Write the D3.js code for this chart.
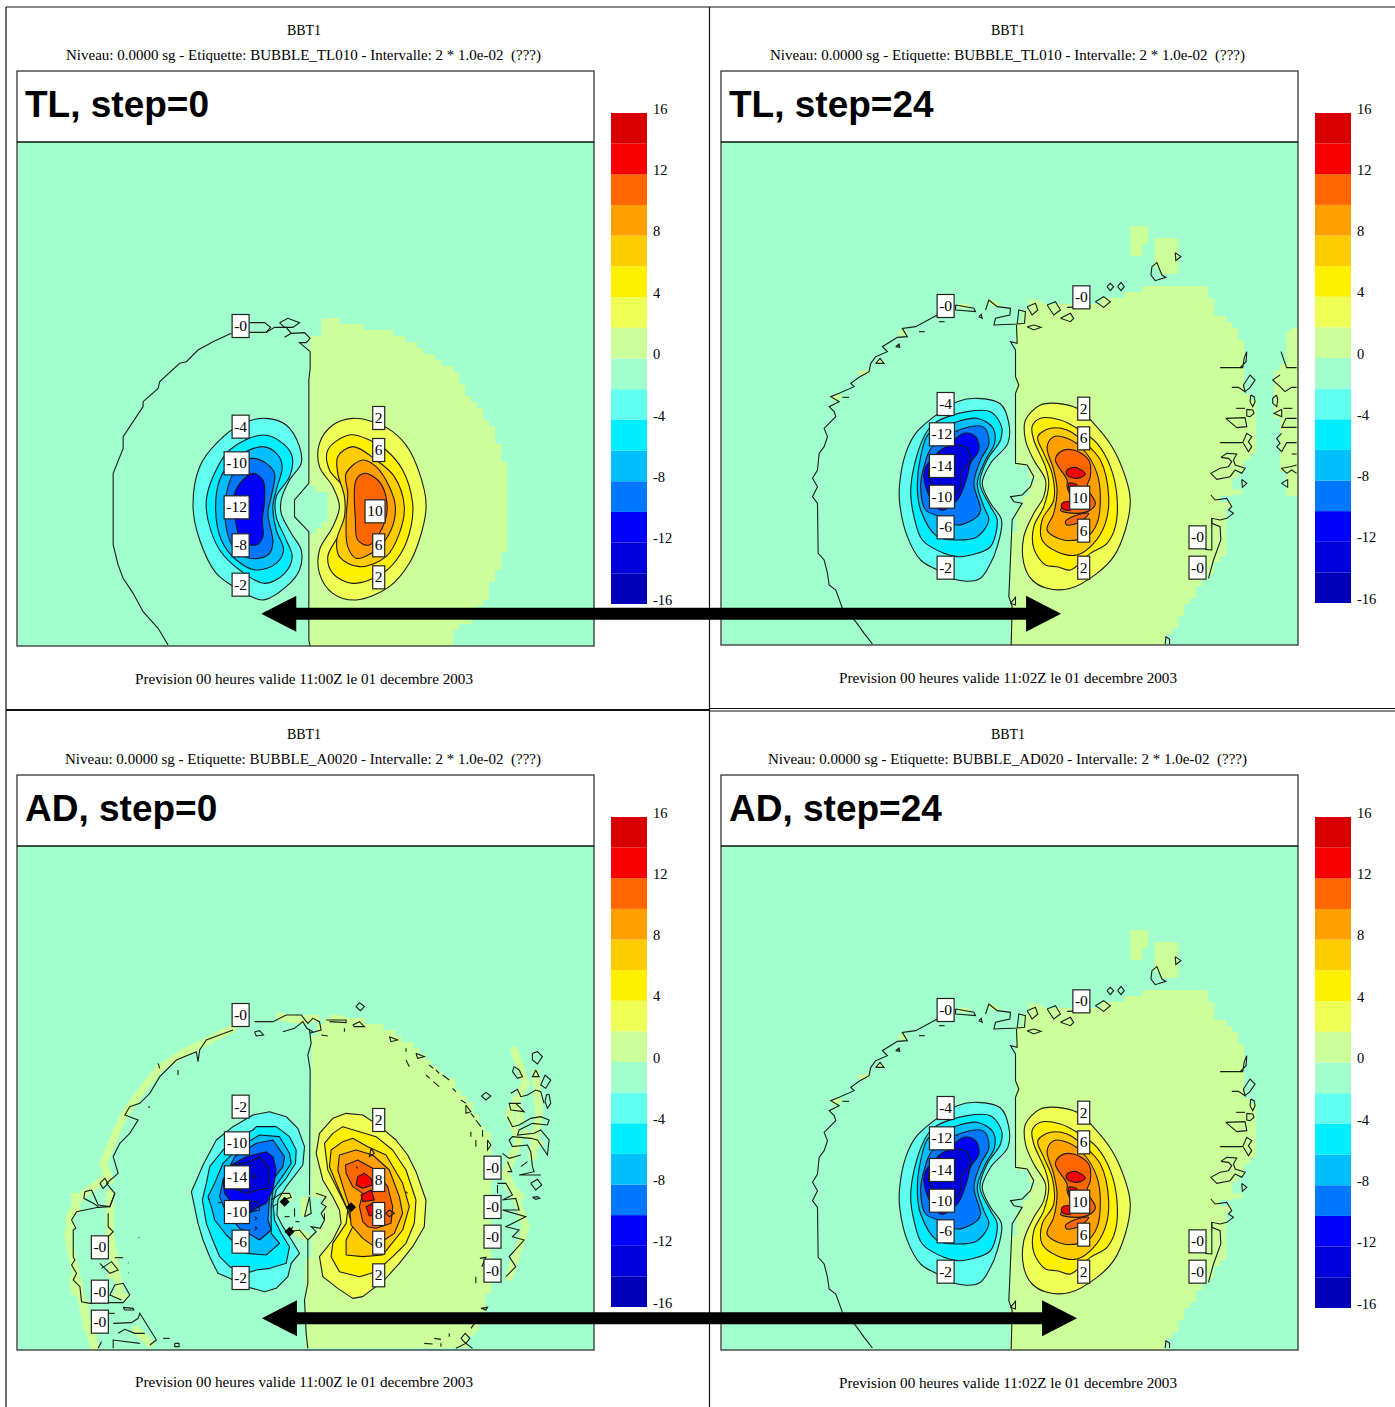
<!DOCTYPE html>
<html>
<head>
<meta charset="utf-8">
<script src="https://cdnjs.cloudflare.com/ajax/libs/d3/7.8.5/d3.min.js"></script>
<style>
html, body { margin: 0; background: #fff; }
svg { display: block; }
</style>
</head>
<body>
<svg id="chart" width="1395" height="1407"></svg>
<script>
// bands of the colour key, low to high
const levels = d3.range(-16, 17, 2);
const keyTicks = [16, 12, 8, 4, 0, -4, -8, -12, -16];
const bandColors = ["#0000b8", "#0000dc", "#0000ff", "#0077ff", "#00bfff", "#00eeff", "#60ffee", "#a0ffcc",
    "#ccff99", "#eeff55", "#fff000", "#ffcc00", "#ffa000", "#ff6600", "#f60000", "#d80000"];

// ---- TL step 0 ----
const tl0Pale = [[630,100],[660,100],[660,55],[720,55],[720,70],[750,70],[800,85],[860,85],[905,115],[960,140],[1010,180],[1070,220],[1090,270],[1130,320],[1170,370],[1190,420],[1205,470],[1220,520],[1220,740],[1205,800],[1170,880],[1145,925],[1115,965],[1070,1010],[1070,1040],[630,1040],[630,700],[675,660],[675,580],[630,545]];
const tl0Arc = [[395,100],[340,125],[295,150],[260,185],[240,190],[180,245],[175,265],[130,305],[130,320],[90,380],[70,410],[70,445],[40,520],[40,735],[55,795],[70,835],[100,880],[130,935],[175,985],[205,1035]];
const tl0Split = [[632,155],[632,205],[628,240],[628,550],[585,600],[585,650],[628,695],[628,1020],[632,1040]];
const tl0Bits = [
    [[450,68],[495,68],[513,82],[500,97],[450,97]],
    [[500,97],[525,82],[560,82],[575,100],[555,112],[575,100],[615,98],[632,115],[620,128],[600,128],[632,155]],
    [[540,68],[565,55],[600,68],[580,82],[555,82],[540,68]]
];
const tl0Neg2 = [[430,370],[500,355],[560,375],[600,440],[605,490],[570,540],[545,600],[545,640],[575,700],[605,750],[600,810],[560,860],[490,900],[420,870],[350,820],[300,720],[280,620],[300,500],[350,430]];
const tl0Neg4 = [[490,405],[550,430],[578,470],[570,530],[530,590],[530,650],[560,720],[578,770],[555,820],[495,850],[420,810],[360,750],[325,660],[320,600],[340,530],[390,450]];
const tl0Neg6 = [[490,440],[535,465],[548,500],[530,570],[520,620],[530,690],[552,750],[530,790],[470,810],[410,780],[365,720],[348,630],[360,540],[400,480]];
const tl0Neg8 = [[500,490],[525,520],[515,590],[505,640],[520,730],[505,765],[450,775],[400,740],[375,640],[385,560],[420,490],[460,475]];
const tl0Neg10 = [[460,520],[490,540],[495,600],[488,660],[490,710],[470,735],[425,720],[405,640],[405,580],[430,540]];
const tl0Pos2 = [[700,375],[760,355],[820,365],[880,395],[930,450],[975,570],[980,630],[960,720],[930,790],[870,860],[770,900],[700,880],[660,820],[660,750],[700,680],[720,620],[700,560],[660,500],[660,430]];
const tl0Pos4 = [[750,405],[810,420],[860,450],[910,510],[940,610],[935,680],[905,760],[850,820],[760,850],[700,820],[685,770],[720,700],[740,630],[730,560],[690,510],[685,450]];
const tl0Pos6 = [[760,440],[830,480],[885,530],[915,620],[900,700],[860,770],[780,800],[720,770],[712,720],[735,650],[735,590],[715,520],[715,470]];
const tl0Pos8 = [[790,480],[830,500],[870,560],[888,620],[875,690],[830,750],[770,775],[745,740],[740,660],[745,580],[740,520]];
const tl0Pos10 = [[795,520],[835,540],[860,590],[858,660],[810,735],[775,720],[768,660],[770,540]];
const tl0Labels = [["-0",423,78],["-4",423,380],["-10",411,490],["-12",411,622],["-8",423,736],["-2",423,854],["2",838,354],["6",838,450],["10",827,634],["6",838,736],["2",838,832]];

// ---- step 24, shared by TL and AD (they differ by the far right strip) ----
const st24Pale = [[650,370],[650,310],[680,250],[800,260],[880,245],[950,230],[1040,200],[1190,190],[1230,240],[1240,280],[1310,330],[1335,400],[1335,530],[1370,560],[1370,700],[1335,740],[1290,800],[1300,830],[1240,830],[1290,860],[1270,900],[1270,1010],[1230,1070],[1200,1100],[1170,1160],[1130,1220],[1090,1275],[632,1278],[630,1130],[640,900],[660,850],[700,770],[680,735],[645,730],[645,520]];
const st24Isles = [[[995,20],[1035,20],[1035,75],[1020,75],[1020,110],[995,110]], [[1065,50],[1130,50],[1130,170],[1095,170],[1065,130]]];
const st24StripPale = [[1470,320],[1494,320],[1494,830],[1455,830],[1455,770],[1440,720],[1440,600],[1420,540],[1420,460],[1450,420]];
const st24Specks = [[[300,340],[312,340]], [[178,458],[195,458]], [[100,535],[115,530]], [[235,425],[240,425]], [[480,258],[500,258]], [[570,245],[590,255]], [[690,245],[720,250]], [[1295,815],[1320,815]]];
const st24Arc = [[410,285],[345,320],[305,325],[320,350],[290,352],[245,380],[260,395],[225,410],[210,430],[205,455],[175,472],[150,490],[160,500],[115,520],[90,530],[115,545],[85,560],[100,575],[105,590],[70,625],[80,650],[70,680],[55,700],[50,750],[35,775],[50,800],[35,830],[50,850],[52,1000],[70,1020],[80,1060],[85,1095],[105,1110],[125,1165],[165,1205],[190,1240],[215,1272]];
const st24Split = [[648,315],[650,370],[630,365],[645,390],[645,470],[655,495],[645,520],[645,730],[680,735],[700,770],[690,800],[665,825],[630,830],[640,845],[665,850],[635,900],[625,1130],[635,1160],[632,1275]];
const st24Bits = [
    [[465,255],[520,265],[525,275],[465,270],[465,255]],
    [[555,270],[565,240],[590,260],[630,265],[628,285],[585,295],[580,315],[650,312],[655,270],[675,275],[672,310],[650,312]],
    [[680,320],[700,315],[722,322],[700,330],[680,320]],
    [[680,260],[705,250],[712,270],[695,285],[680,260]],
    [[740,255],[765,245],[780,270],[760,285],[740,255]],
    [[780,295],[810,280],[820,295],[810,305],[780,295]],
    [[885,245],[910,230],[930,245],[910,262],[885,245]],
    [[920,200],[930,190],[940,200],[930,212],[920,200]],
    [[952,200],[962,187],[972,200],[962,212],[952,200]],
    [[800,262],[870,260]],
    [[1055,140],[1070,128],[1085,165],[1097,172],[1065,182],[1052,165],[1055,140]],
    [[1125,98],[1142,110],[1127,122],[1125,98]],
    [[535,290],[542,283],[545,295],[535,290]],
    [[225,430],[238,415],[250,430],[225,430]],
    [[285,380],[295,372],[297,382],[285,380]],
    [[415,305],[432,305]], [[355,335],[372,335]], [[125,532],[145,532]], [[630,1150],[645,1132],[645,1155],[630,1150]],
    [[1095,1272],[1097,1250],[1108,1258],[1108,1272]],
    [[1260,443],[1328,443],[1332,415],[1340,395],[1338,425],[1320,443]],
    [[1295,502],[1315,502],[1335,515],[1330,495],[1350,465],[1365,480],[1350,502],[1335,515]],
    [[1352,525],[1362,530],[1365,545],[1358,560],[1350,545],[1352,525]],
    [[1308,565],[1335,565]],
    [[1340,568],[1358,570],[1362,580],[1350,590],[1340,588],[1340,568]],
    [[1277,595],[1335,593],[1340,620],[1310,623],[1277,595]],
    [[1260,668],[1328,668],[1340,640],[1355,650],[1345,665],[1355,680],[1345,695],[1330,670]],
    [[1262,712],[1280,700],[1310,702],[1300,720],[1305,735],[1335,745],[1325,760],[1305,750],[1290,770],[1250,778],[1232,760],[1260,745],[1285,740],[1295,725],[1285,715],[1262,712]],
    [[1325,778],[1340,790],[1327,802],[1325,778]],
    [[1232,825],[1245,840],[1280,835],[1295,860],[1285,870],[1300,880],[1280,895],[1260,900],[1235,895],[1235,910],[1260,920],[1262,960],[1240,1020],[1225,1075]],
    [[1215,988],[1235,990],[1235,895]]
];
const st24StripBits = [
    [[1443,395],[1455,430],[1460,443],[1490,443]],
    [[1440,465],[1425,475],[1418,480],[1440,500],[1455,515],[1475,502],[1490,502]],
    [[1430,525],[1418,535],[1418,550],[1430,560],[1433,540],[1430,525]],
    [[1450,565],[1477,565]],
    [[1445,568],[1422,580],[1445,590],[1445,568]],
    [[1490,595],[1458,595],[1445,622],[1490,622]],
    [[1445,640],[1430,655],[1440,670],[1430,680],[1445,695],[1460,668],[1490,668]],
    [[1475,702],[1490,702]],
    [[1490,735],[1470,740],[1445,745],[1460,760],[1475,750],[1490,760]],
    [[1463,778],[1445,790],[1463,802],[1463,778]]
];
const st24Neg2 = [[470,545],[530,535],[600,552],[625,610],[622,670],[570,730],[545,790],[570,850],[603,900],[590,980],[570,1030],[535,1078],[460,1078],[410,1050],[360,1020],[320,950],[297,850],[297,790],[315,700],[345,640],[400,590]];
const st24Neg4 = [[500,575],[570,575],[603,620],[600,660],[560,720],[538,790],[570,860],[590,900],[570,980],[530,1000],[470,1010],[430,1000],[365,960],[340,890],[330,820],[340,740],[370,650],[400,610]];
const st24Neg6 = [[470,605],[530,595],[578,625],[582,670],[555,720],[530,790],[550,860],[565,900],[530,950],[470,960],[410,950],[360,870],[350,800],[360,710],[385,640]];
const st24Neg8 = [[490,625],[550,622],[565,670],[540,720],[520,790],[540,870],[530,890],[470,915],[420,890],[375,870],[360,800],[370,740],[395,680]];
const st24Neg10 = [[490,640],[525,650],[535,690],[510,730],[500,770],[470,840],[420,870],[375,800],[375,740],[420,700]];
const st24Neg12 = [[470,675],[500,685],[510,720],[480,760],[480,800],[440,840],[390,790],[385,745],[420,690]];
const st24Pos2 = [[720,555],[770,550],[830,565],[880,610],[935,680],[975,770],[990,840],[975,930],[940,1010],[890,1060],[810,1105],[740,1105],[695,1080],[670,1030],[670,950],[700,880],[730,830],[735,780],[700,720],[675,660],[675,600]];
const st24Pos4 = [[720,595],[780,600],[830,625],[890,670],[930,740],[950,830],[945,920],[920,970],[870,1000],[810,1050],[770,1040],[735,1035],[700,985],[700,920],[730,860],[745,790],[735,740],[700,660],[695,620]];
const st24Pos6 = [[750,625],[800,630],[850,665],[900,720],[925,830],[915,910],[880,970],[830,1005],[770,995],[725,960],[725,900],[760,840],[755,760],[730,700],[712,650]];
const st24Pos8 = [[760,650],[800,655],[850,690],[890,760],[900,830],[890,910],[860,950],[790,960],[740,930],[760,880],[770,810],[760,750],[740,680]];
const st24Pos10 = [[780,695],[820,690],[865,720],[870,770],[860,800],[885,850],[870,870],[830,880],[780,870],[810,840],[800,800],[800,780],[765,720]];
const st24Pos10b = [[795,905],[830,885],[865,880],[840,905],[800,915]];
const st24Pos12a = [[800,750],[825,742],[855,762],[830,775],[800,765]];
const st24Pos12b = [[805,790],[830,795],[810,815]];
const st24Pos12c = [[785,850],[810,845],[810,870],[785,865]];
const st24Labels = [["-0",435,258],["-0",843,232],["-4",435,552],["-12",424,643],["-14",424,738],["-10",424,830],["-6",435,922],["-2",435,1043],["2",850,566],["6",850,655],["10",838,833],["6",850,932],["2",850,1043],["-0",1192,952],["-0",1192,1043]];

// ---- AD step 0, noisier ----
const ad0Pale = [[755,100],[790,50],[870,50],[950,75],[1040,130],[1110,190],[1180,260],[1250,340],[1290,420],[1290,860],[1280,960],[1240,1000],[1220,1050],[745,1050],[735,900],[745,780],[760,700],[790,680],[790,600],[750,590],[750,200]];
const ad0PaleFringes = [
    [[520,85],[440,125],[370,160],[300,205],[250,265],[190,350],[160,420],[130,490],[150,540]],
    [[130,540],[60,590],[30,650],[30,740],[50,830],[70,920],[90,1000],[105,1045]],
    [[150,620],[150,700],[165,790],[180,880]],
    [[45,590],[50,630]], [[25,700],[30,740]], [[40,835],[45,875]], [[75,910],[80,985]], [[150,580],[150,615]], [[155,795],[155,825]], [[170,885],[195,890]], [[100,1010],[105,1050]], [[135,530],[150,540]],
    [[1365,150],[1400,250],[1350,340],[1380,420],[1340,520],[1380,620],[1400,680],[1370,770],[1350,830]],
    [[1430,220],[1440,340],[1420,470]], [[1370,300],[1385,360]], [[1400,400],[1440,430]], [[1350,560],[1385,590]],
    [[230,990],[270,1030]], [[1220,1000],[1240,990]], [[660,50],[720,60],[770,55]], [[825,55],[860,65]],
    [[665,585],[690,590]], [[735,600],[735,640]], [[710,695],[740,710]]
];
const ad0Arc = [[520,90],[480,105],[440,120],[420,150],[415,185],[410,155],[350,180],[300,230],[270,280],[240,310],[210,320],[195,345],[235,360],[210,400],[180,430],[160,470],[175,520],[140,550],[165,580],[150,620],[115,622],[50,635],[35,660],[48,685],[40,690],[40,770],[45,780],[35,795],[50,820],[40,840],[60,860],[65,905],[90,910],[145,908],[190,908],[210,885],[190,850],[165,855],[150,885],[185,900]];
const ad0Split = [[750,90],[755,130],[745,165],[752,210],[750,585]];
const ad0Split2 = [[745,720],[745,850],[735,900],[740,1000],[745,1045]];
const ad0Bits = [
    [[120,550],[135,535],[145,550],[130,565],[120,550]],
    [[165,580],[150,620],[115,615],[95,570],[75,575],[72,595],[100,610],[115,620]],
    [[145,640],[145,680],[160,695],[145,710]],
    [[120,790],[150,820],[175,810],[155,785],[125,805]],
    [[160,970],[215,968],[235,955],[240,940],[290,1020],[270,1035]],
    [[175,1000],[195,988],[225,1000],[255,1000]],
    [[160,1045],[160,1020],[240,1030]],
    [[125,1025],[115,1045]],
    [[190,922],[220,925],[222,930],[195,930],[190,922]],
    [[310,1015],[330,1015]],
    [[345,1030],[358,1030],[358,1040],[345,1040],[345,1030]],
    [[165,773],[190,773]], [[145,940],[165,940]], [[237,712],[238,714]], [[205,788],[206,789]], [[205,818],[206,819]],
    [[355,210],[355,225]], [[295,190],[300,205]], [[268,318],[268,324]],
    [[900,8],[915,20],[903,32],[890,20],[900,8]],
    [[585,65],[640,65],[680,45],[725,45],[745,70],[760,55],[780,65],[785,90],[750,100]],
    [[670,95],[705,85],[730,65],[742,85],[760,95]],
    [[585,95],[600,92],[612,105],[590,108],[585,95]],
    [[800,60],[860,60],[860,68],[810,65]],
    [[880,75],[900,65],[915,80],[885,80],[880,75]],
    [[785,105],[805,108]], [[855,85],[855,95]],
    [[990,110],[1015,120],[995,125],[990,110]], [[1040,145],[1040,155]], [[1040,180],[1050,200]],
    [[1070,160],[1095,170],[1075,175],[1070,160]],
    [[1110,195],[1122,205]], [[1130,210],[1140,220]], [[1150,225],[1170,240]], [[1100,225],[1112,235]], [[1122,245],[1140,260]],
    [[1180,265],[1190,275]], [[1205,300],[1220,310]], [[1220,315],[1235,335],[1220,340],[1220,315]],
    [[1235,340],[1245,352]], [[1250,360],[1265,380]], [[1235,395],[1235,410]], [[1270,390],[1270,410]],
    [[1285,420],[1295,435],[1285,450],[1285,420]], [[1250,420],[1250,440]],
    [[1250,830],[1250,850]], [[1265,925],[1285,922],[1280,930],[1265,925]], [[1235,985],[1250,965]],
    [[1205,1015],[1218,1000],[1232,1015],[1220,1030],[1205,1015]],
    [[1095,1030],[1120,1032]], [[1125,1015],[1145,1018]], [[1145,1030],[1145,1040]], [[1170,1000],[1170,1010]],
    [[1190,1045],[1220,1030],[1240,1045]],
    // around the two lobes
    [[735,650],[750,590],[755,640],[735,650]],
    [[770,580],[800,590],[785,610],[800,620],[785,640],[795,660],[782,685],[755,680],[770,695],[745,720],[720,690],[690,695],[700,680]],
    [[635,600],[665,580],[690,580],[695,592],[670,600]], [[640,620],[655,610]], [[705,625],[705,650]], [[675,650],[690,650]], [[708,665],[720,665]],
    [[795,640],[795,660]],
    [[570,605],[595,605],[600,630],[575,635],[570,605]], [[582,610],[586,630]],
    [[580,530],[585,525],[590,530],[585,535],[580,530]],
    [[585,650],[592,655],[585,660]], [[585,680],[592,685],[585,690]],
    [[475,608],[485,608]], [[445,595],[450,600]],
    [[935,445],[945,460],[930,470],[935,445]], [[890,500],[895,505]], [[1040,575],[1045,580]],
    [[990,630],[1005,640],[990,650],[980,640],[990,630]],
    // right fringe
    [[1420,160],[1435,155],[1450,170],[1435,192],[1420,180],[1420,160]],
    [[1430,210],[1420,230],[1440,230],[1430,210]],
    [[1365,200],[1380,210],[1390,230],[1375,235],[1360,215],[1365,200]],
    [[1458,225],[1475,240],[1460,265],[1445,255],[1458,225]],
    [[1280,277],[1295,288],[1280,300],[1267,288],[1280,277]],
    [[1470,283],[1475,310],[1465,325],[1458,305],[1462,285],[1470,283]],
    [[1355,280],[1375,268],[1385,290],[1405,285],[1430,270],[1445,275],[1455,310]],
    [[1385,310],[1350,310],[1355,330],[1395,335],[1370,310]],
    [[1345,350],[1360,380],[1380,375],[1415,355],[1445,350],[1470,360],[1465,375],[1420,370],[1380,390],[1375,405],[1425,400],[1445,390],[1470,420],[1465,465],[1435,420],[1415,415],[1360,410],[1350,420],[1360,440],[1405,435],[1415,455],[1420,500],[1425,515],[1380,525],[1445,525]],
    [[1330,460],[1350,475],[1385,465]], [[1345,485],[1358,515],[1345,515]], [[1385,500],[1405,485]],
    [[1315,550],[1340,550],[1360,585],[1330,600],[1370,595],[1380,630],[1330,630],[1400,650],[1370,665],[1340,680],[1380,690],[1360,710],[1395,720],[1350,770],[1370,800],[1340,830]],
    [[1415,550],[1435,538],[1448,555],[1430,570],[1415,550]],
    [[1420,592],[1435,590],[1442,595],[1430,598],[1420,592]],
    [[1262,775],[1280,772],[1268,800]], [[1315,555],[1315,580]]
];
const ad0Blots = [[675,605],[690,695],[875,622]];
const ad0Neg2 = [[630,335],[680,350],[715,385],[735,440],[730,495],[680,560],[655,600],[652,645],[670,680],[690,710],[720,760],[695,790],[685,830],[650,865],[615,875],[560,860],[510,835],[475,820],[450,770],[430,720],[415,670],[395,575],[415,530],[430,495],[470,420],[520,380],[580,345]];
const ad0Neg4 = [[590,380],[650,380],[690,410],[710,450],[708,490],[680,535],[650,570],[640,610],[645,660],[665,700],[690,740],[680,790],[630,805],[590,810],[560,820],[510,800],[480,770],[455,710],[440,670],[428,600],[440,550],[450,500],[490,450],[540,410],[580,390]];
const ad0Neg6 = [[600,405],[660,410],[690,460],[695,490],[675,520],[640,570],[635,620],[635,700],[660,730],[620,765],[560,760],[500,705],[465,660],[455,620],[445,590],[465,550],[490,490],[535,445]];
const ad0Neg8 = [[590,430],[640,420],[675,470],[670,500],[640,540],[630,590],[625,660],[635,690],[600,720],[540,685],[500,640],[480,590],[490,540],[525,470]];
const ad0Neg10 = [[560,470],[620,455],[640,470],[650,510],[640,570],[620,610],[590,625],[570,640],[510,600],[495,580],[490,540],[515,495]];
const ad0Neg12 = [[570,485],[600,470],[625,500],[630,540],[625,565],[595,570],[560,580],[520,565],[510,520],[520,495]];
const ad0Pos2 = [[860,340],[910,345],[940,365],[980,395],[1010,420],[1045,465],[1070,515],[1100,600],[1095,680],[1060,740],[1020,790],[975,840],[910,890],[880,895],[835,865],[790,830],[780,770],[820,720],[845,670],[840,630],[820,590],[790,540],[770,460],[780,400],[820,355]];
const ad0Pos4 = [[850,380],[900,395],[950,410],[1000,450],[1040,510],[1070,600],[1065,670],[1040,730],[1000,770],[950,815],[900,830],[840,815],[815,770],[820,730],[860,670],[865,630],[840,580],[805,510],[795,430],[820,400]];
const ad0Pos6 = [[880,415],[925,440],[980,465],[1030,550],[1050,620],[1030,690],[990,740],[970,765],[910,770],[860,765],[860,720],[880,680],[865,630],[835,560],[810,500],[815,450],[850,425]];
const ad0Pos8 = [[890,450],[940,465],[990,510],[1020,590],[1030,640],[1005,700],[975,720],[945,740],[910,715],[875,675],[870,620],[860,590],[835,510],[840,465]];
const ad0Pos10 = [[895,480],[940,505],[985,560],[1000,620],[995,670],[950,685],[925,680],[910,665],[900,620],[910,580],[880,560],[860,520],[858,495]];
const ad0Pos12a = [[895,530],[915,520],[935,535],[940,555],[910,565],[890,555]];
const ad0Pos12b = [[905,585],[935,570],[945,600],[910,605]];
const ad0Pos12c = [[920,620],[940,610],[970,620],[965,645],[930,648]];
const ad0Labels = [["-0",543,45],["-2",543,320],["-10",532,430],["-14",532,532],["-10",532,636],["-6",543,725],["-2",543,834],["2",958,360],["8",958,540],["8",958,642],["6",958,728],["2",958,826],["-0",1300,503],["-0",1300,621],["-0",1300,710],["-0",1300,812],["-0",120,742],["-0",120,875],["-0",120,965]];

// contour fills, [band midpoint, ring], painted outer to inner
const tl0Rings = [[-3,tl0Neg2],[-5,tl0Neg4],[-7,tl0Neg6],[-9,tl0Neg8],[-11,tl0Neg10],[3,tl0Pos2],[5,tl0Pos4],[7,tl0Pos6],[9,tl0Pos8],[11,tl0Pos10]];
const st24Rings = [[-3,st24Neg2],[-5,st24Neg4],[-7,st24Neg6],[-9,st24Neg8],[-11,st24Neg10],[-13,st24Neg12],[3,st24Pos2],[5,st24Pos4],[7,st24Pos6],[9,st24Pos8],[11,st24Pos10],[11,st24Pos10b],[13,st24Pos12a],[13,st24Pos12b],[13,st24Pos12c]];
const ad0Rings = [[-3,ad0Neg2],[-5,ad0Neg4],[-7,ad0Neg6],[-9,ad0Neg8],[-11,ad0Neg10],[-13,ad0Neg12],[3,ad0Pos2],[5,ad0Pos4],[7,ad0Pos6],[9,ad0Pos8],[11,ad0Pos10],[13,ad0Pos12a],[13,ad0Pos12b],[13,ad0Pos12c]];

const panels = [
    { id: "tl0", head: "TL, step=0", etiquette: "BUBBLE_TL010", valid: "11:00Z",
      left: 17, right: 594, top: 71, mapTop: 142, bottom: 646, keyLeft: 611, keyTop: 113, keyBottom: 604,
      headY: [30, 55], headX: [66, 541], footY: 679, footX: [135, 473], cx: 304,
      domainX: [-246, 1485], domainY: [-474, 1038], curve: d3.curveCatmullRomClosed,
      pale: [tl0Pale], fringes: [], fringeWidth: 0, rings: tl0Rings, lines: [tl0Arc, tl0Split, ...tl0Bits], blots: [], labels: tl0Labels },
    { id: "tl24", head: "TL, step=24", etiquette: "BUBBLE_TL010", valid: "11:02Z",
      left: 721, right: 1298, top: 71, mapTop: 142, bottom: 645, keyLeft: 1315, keyTop: 113, keyBottom: 603,
      headY: [30, 55], headX: [770, 1245], footY: 678, footX: [839, 1177], cx: 1008,
      domainX: [-237, 1494], domainY: [-234, 1275], curve: d3.curveCatmullRomClosed,
      pale: [st24Pale, ...st24Isles, st24StripPale], fringes: st24Specks, fringeWidth: 5, rings: st24Rings, lines: [st24Arc, st24Split, ...st24Bits, ...st24StripBits], blots: [], labels: st24Labels },
    { id: "ad0", head: "AD, step=0", etiquette: "BUBBLE_A0020", valid: "11:00Z",
      left: 17, right: 594, top: 775, mapTop: 846, bottom: 1350, keyLeft: 611, keyTop: 817, keyBottom: 1307,
      headY: [734, 759], headX: [65, 541], footY: 1382, footX: [135, 473], cx: 304,
      domainX: [-126, 1605], domainY: [-462, 1050], curve: d3.curveLinearClosed,
      pale: [ad0Pale], fringes: ad0PaleFringes, fringeWidth: 8, rings: ad0Rings, lines: [ad0Arc, ad0Split, ad0Split2, ...ad0Bits], blots: ad0Blots, labels: ad0Labels },
    { id: "ad24", head: "AD, step=24", etiquette: "BUBBLE_AD020", valid: "11:02Z",
      left: 721, right: 1298, top: 775, mapTop: 846, bottom: 1350, keyLeft: 1315, keyTop: 817, keyBottom: 1308,
      headY: [734, 759], headX: [768, 1247], footY: 1383, footX: [839, 1177], cx: 1008,
      domainX: [-237, 1494], domainY: [-234, 1278], curve: d3.curveCatmullRomClosed,
      pale: [st24Pale, ...st24Isles], fringes: st24Specks, fringeWidth: 5, rings: st24Rings, lines: [st24Arc, st24Split, ...st24Bits], blots: [], labels: st24Labels }
];

const svg = d3.select("#chart");
const serif = "'Liberation Serif', 'DejaVu Serif', serif";
const lineColor = "#1a1a1a";
const color = d3.scaleQuantize().domain([-16, 16]).range(bandColors);
const mint = color(-1), pale = color(1);

// the pale field is drawn on the coarse model grid, so walk each ring cell by cell
const cell = 18;
function toGrid(ring) {
    const out = [];
    ring.forEach((a, i) => {
        const b = ring[(i + 1) % ring.length];
        const n = Math.max(1, Math.ceil(Math.max(Math.abs(b[0] - a[0]), Math.abs(b[1] - a[1])) / cell));
        d3.range(n).forEach(k => out.push([
            Math.round((a[0] + (b[0] - a[0]) * k / n) / cell) * cell,
            Math.round((a[1] + (b[1] - a[1]) * k / n) / cell) * cell
        ]));
    });
    return out;
}

// page frame
const framePath = d3.path();
framePath.moveTo(6, 7); framePath.lineTo(1395, 7);
framePath.moveTo(6, 7); framePath.lineTo(6, 1407);
framePath.moveTo(709.5, 7); framePath.lineTo(709.5, 1407);
svg.append("path").attr("d", framePath).attr("fill", "none").attr("stroke", "#111").attr("stroke-width", 1.2);
const splitPath = d3.path();
splitPath.moveTo(6, 710); splitPath.lineTo(709, 710);
svg.append("path").attr("d", splitPath).attr("stroke", "#111").attr("stroke-width", 2);
const splitPath2 = d3.path();
splitPath2.moveTo(709, 708.5); splitPath2.lineTo(1395, 708.5);
splitPath2.moveTo(709, 711); splitPath2.lineTo(1395, 711);
svg.append("path").attr("d", splitPath2).attr("stroke", "#111").attr("stroke-width", 1);

function drawPanel(p) {
    const g = svg.append("g").attr("class", "panel");
    const x = d3.scaleLinear().domain(p.domainX).range([p.left + 1, p.right]);
    const y = d3.scaleLinear().domain(p.domainY).range([p.mapTop, p.bottom]);
    p.x = x; p.y = y;

    // titles
    g.append("text").attr("x", p.cx).attr("y", p.headY[0] + 5).attr("text-anchor", "middle")
        .attr("font-family", serif).attr("font-size", 14).attr("fill", "#000").text("BBT1");
    g.append("text").attr("x", p.headX[0]).attr("y", p.headY[1] + 5)
        .attr("textLength", p.headX[1] - p.headX[0]).attr("lengthAdjust", "spacingAndGlyphs")
        .attr("font-family", serif).attr("font-size", 14.5).attr("fill", "#000")
        .text(`Niveau: 0.0000 sg - Etiquette: ${p.etiquette} - Intervalle: 2 * 1.0e-02 \u00a0(???)`);
    g.append("text").attr("x", p.footX[0]).attr("y", p.footY + 5)
        .attr("textLength", p.footX[1] - p.footX[0]).attr("lengthAdjust", "spacingAndGlyphs")
        .attr("font-family", serif).attr("font-size", 14.5).attr("fill", "#000")
        .text(`Prevision 00 heures valide ${p.valid} le 01 decembre 2003`);

    g.append("rect").attr("x", p.left).attr("y", p.top).attr("width", p.right - p.left).attr("height", p.bottom - p.top)
        .attr("fill", "#fff");
    g.append("text").attr("x", p.left + 8).attr("y", p.top + 46)
        .attr("font-family", "'Liberation Sans', Arial, sans-serif").attr("font-weight", "bold").attr("font-size", 37)
        .attr("fill", "#000").text(p.head);

    // the map itself
    const clipId = "clip-" + p.id;
    g.append("clipPath").attr("id", clipId).append("rect")
        .attr("x", p.left + 1).attr("y", p.mapTop).attr("width", p.right - p.left - 1).attr("height", p.bottom - p.mapTop);
    const map = g.append("g").attr("clip-path", `url(#${clipId})`);
    map.append("rect").attr("x", p.left + 1).attr("y", p.mapTop).attr("width", p.right - p.left - 1).attr("height", p.bottom - p.mapTop)
        .attr("fill", mint);

    const stepped = d3.line().x(d => x(d[0])).y(d => y(d[1])).curve(d3.curveStepAfter);
    const ring = d3.line().x(d => x(d[0])).y(d => y(d[1])).curve(p.curve);
    const open = d3.line().x(d => x(d[0])).y(d => y(d[1]));

    map.selectAll("path.pale").data(p.pale).enter().append("path").attr("class", "pale")
        .attr("d", d => stepped(toGrid(d)) + "Z").attr("fill", pale);
    map.selectAll("path.fringe").data(p.fringes).enter().append("path").attr("class", "fringe")
        .attr("d", open).attr("fill", "none").attr("stroke", pale).attr("stroke-width", p.fringeWidth).attr("stroke-linejoin", "round").attr("stroke-linecap", "round");
    map.selectAll("path.ring").data(p.rings).enter().append("path").attr("class", "ring")
        .attr("d", d => ring(d[1])).attr("fill", d => color(d[0])).attr("stroke", lineColor).attr("stroke-width", 1.1).attr("stroke-linejoin", "round");
    map.selectAll("path.contour").data(p.lines).enter().append("path").attr("class", "contour")
        .attr("d", open).attr("fill", "none").attr("stroke", lineColor).attr("stroke-width", 1.1);
    map.selectAll("path.blot").data(p.blots).enter().append("path").attr("class", "blot")
        .attr("d", d3.symbol(d3.symbolSquare, 50))
        .attr("transform", d => `translate(${x(d[0])},${y(d[1])}) rotate(45)`).attr("fill", "#000");

    // contour value tags
    const tags = map.selectAll("g.tag").data(p.labels).enter().append("g").attr("class", "tag")
        .attr("transform", d => `translate(${x(d[1])},${y(d[2])})`);
    const tagWidth = d => 4 + 8 * d[0].replace("-", "").length + (d[0][0] === "-" ? 5 : 0);
    tags.append("rect").attr("x", d => -tagWidth(d) / 2).attr("y", -11.5).attr("width", tagWidth).attr("height", 23)
        .attr("fill", "#fff").attr("stroke", "#222").attr("stroke-width", 1.2);
    tags.append("text").attr("text-anchor", "middle").attr("dy", 5).attr("font-family", serif)
        .attr("font-size", 15.5).attr("fill", "#000").text(d => d[0]);

    // frame of the map and its title box
    g.append("rect").attr("x", p.left).attr("y", p.top).attr("width", p.right - p.left).attr("height", p.bottom - p.top)
        .attr("fill", "none").attr("stroke", "#333").attr("stroke-width", 1.3);
    g.append("line").attr("x1", p.left).attr("x2", p.right).attr("y1", p.mapTop).attr("y2", p.mapTop)
        .attr("stroke", "#111").attr("stroke-width", 1.3);

    // colour key
    const keyScale = d3.scaleLinear().domain([-16, 16]).range([p.keyBottom, p.keyTop]);
    const bandWidth = 36;
    g.selectAll("rect.band").data(levels.slice(0, -1)).enter().append("rect").attr("class", "band")
        .attr("x", p.keyLeft).attr("y", d => keyScale(d + 2)).attr("width", bandWidth)
        .attr("height", d => keyScale(d) - keyScale(d + 2)).attr("fill", d => color(d + 1));
    const axis = g.append("g").attr("transform", `translate(${p.keyLeft + bandWidth},-4.5)`)
        .call(d3.axisRight(keyScale).tickValues(keyTicks).tickSize(0).tickPadding(6).tickFormat(d => String(d)));
    axis.select(".domain").remove();
    axis.selectAll("text").attr("font-family", serif).attr("font-size", 14.5).attr("fill", "#000");
}

panels.forEach(drawPanel);

// double arrows between the step 0 and step 24 maps
const [tl0Panel, tl24Panel, ad0Panel, ad24Panel] = panels;
const arrows = [
    { from: [tl0Panel, 485, 940], to: [tl24Panel, 782, 1182] },
    { from: [ad0Panel, 607, 955], to: [ad24Panel, 830, 1182] }
];
const headLength = 35, headHalf = 18, shaftWidth = 12;
arrows.forEach(a => {
    const x1 = a.from[0].x(a.from[1]), y1 = a.from[0].y(a.from[2]);
    const x2 = a.to[0].x(a.to[1]), y2 = a.to[0].y(a.to[2]);
    const ym = (y1 + y2) / 2;
    const arrow = svg.append("g");
    arrow.append("line").attr("x1", x1 + headLength - 1).attr("x2", x2 - headLength + 1).attr("y1", ym).attr("y2", ym)
        .attr("stroke", "#000").attr("stroke-width", shaftWidth);
    arrow.append("path").attr("fill", "#000")
        .attr("d", d3.line()([[x1, ym], [x1 + headLength, ym - headHalf], [x1 + headLength, ym + headHalf]]) + "Z");
    arrow.append("path").attr("fill", "#000")
        .attr("d", d3.line()([[x2, ym], [x2 - headLength, ym - headHalf], [x2 - headLength, ym + headHalf]]) + "Z");
});
</script>
</body>
</html>
